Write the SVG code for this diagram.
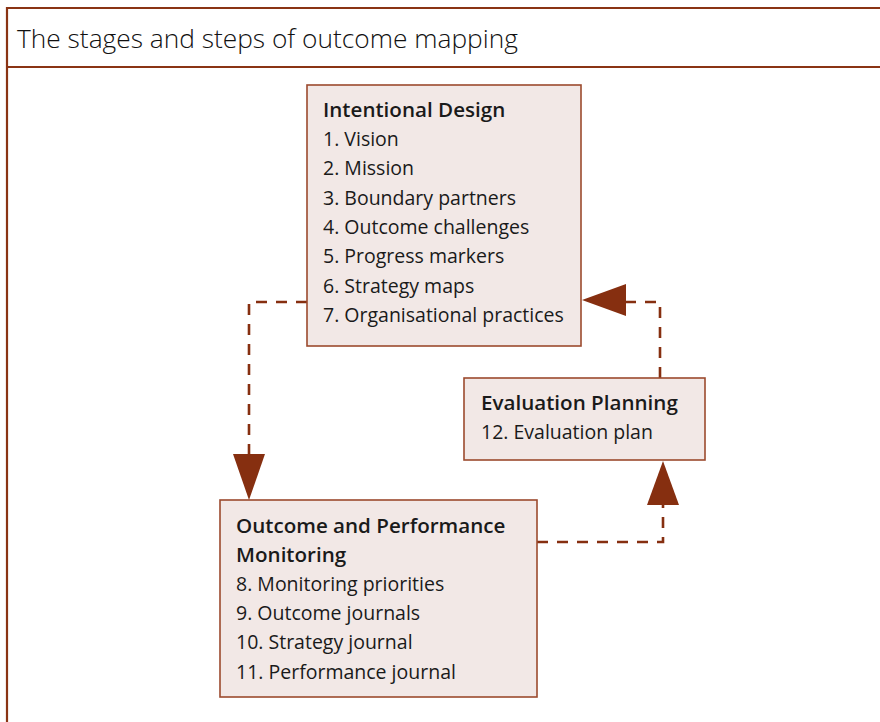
<svg xmlns="http://www.w3.org/2000/svg" width="880" height="722" viewBox="0 0 880 722">
<defs>
<style>
.frame{fill:none;stroke:#8a3414;stroke-width:2.2}
.box{fill:#f2e8e6;stroke:#9c4a2e;stroke-width:1.6}
.t{font-family:"Open Sans","Noto Sans",sans-serif;font-size:19.5px;fill:#1a1a1a}
.h{font-family:"Open Sans","Noto Sans",sans-serif;font-size:20.6px;font-weight:600;fill:#1a1a1a}
.title{font-family:"Open Sans","Noto Sans",sans-serif;font-size:26.3px;font-weight:300;fill:#111}
.conn{fill:none;stroke:#862f10;stroke-width:2.6;stroke-dasharray:11 9}
.head{fill:#862f10}
</style>
</defs>
<g id="frame">
<line class="frame" x1="7" y1="8" x2="880" y2="8"/>
<line class="frame" x1="7" y1="67" x2="880" y2="67"/>
<line class="frame" x1="7" y1="7" x2="7" y2="722"/>
<text class="title" x="17" y="48">The stages and steps of outcome mapping</text>
</g>
<g id="connectors">
<path class="conn" d="M307,302 H249 V456"/>
<polygon class="head" points="233,454 265,454 249,500"/>
<path class="conn" d="M537,542 H663 V505"/>
<polygon class="head" points="647,505 679,505 663,461"/>
<path class="conn" d="M660,378 V302 H626"/>
<polygon class="head" points="626,284 626,316 582,300"/>
</g>
<g id="intentional-design">
<rect class="box" x="307" y="85" width="274" height="261"/>
<text class="h" x="323" y="117">Intentional Design</text>
<text class="t" x="323" y="146">1. Vision</text>
<text class="t" x="323" y="175">2. Mission</text>
<text class="t" x="323" y="205">3. Boundary partners</text>
<text class="t" x="323" y="234">4. Outcome challenges</text>
<text class="t" x="323" y="263">5. Progress markers</text>
<text class="t" x="323" y="293">6. Strategy maps</text>
<text class="t" x="323" y="322">7. Organisational practices</text>
</g>
<g id="evaluation-planning">
<rect class="box" x="464" y="378" width="241" height="82"/>
<text class="h" x="481" y="410">Evaluation Planning</text>
<text class="t" x="481" y="439">12. Evaluation plan</text>
</g>
<g id="monitoring">
<rect class="box" x="220" y="500" width="317" height="197"/>
<text class="h" x="236" y="533">Outcome and Performance</text>
<text class="h" x="236" y="562">Monitoring</text>
<text class="t" x="236" y="591">8. Monitoring priorities</text>
<text class="t" x="236" y="620">9. Outcome journals</text>
<text class="t" x="236" y="649">10. Strategy journal</text>
<text class="t" x="236" y="679">11. Performance journal</text>
</g>
</svg>
